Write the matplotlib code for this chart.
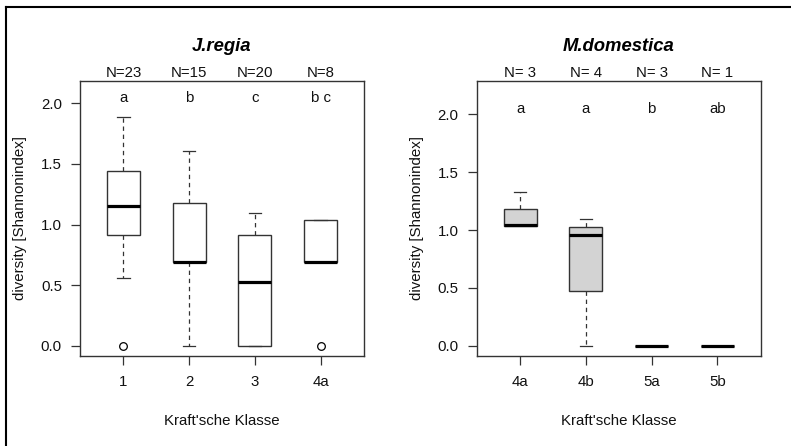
import matplotlib
matplotlib.use('Agg')
import matplotlib.pyplot as plt
from matplotlib.lines import Line2D

plt.rcParams['font.family'] = ['Liberation Sans', 'DejaVu Sans']

# ---- J. regia ----
jr_classes = ['1', '2', '3', '4a']
jr_n = ['N=23', 'N=15', 'N=20', 'N=8']
jr_letters = ['a', 'b', 'c', 'b c']
jr_whislo = [0.56, 0.0, 0.0, 0.693]
jr_q1 = [0.91, 0.693, 0.0, 0.693]
jr_med = [1.155, 0.693, 0.53, 0.693]
jr_q3 = [1.445, 1.175, 0.91, 1.04]
jr_whishi = [1.89, 1.61, 1.099, 1.04]
jr_fliers = [[0.0], [], [], [0.0]]

# ---- M. domestica ----
md_classes = ['4a', '4b', '5a', '5b']
md_n = ['N= 3', 'N= 4', 'N= 3', 'N= 1']
md_letters = ['a', 'a', 'b', 'ab']
md_whislo = [1.04, 0.0, 0.0, 0.0]
md_q1 = [1.035, 0.475, 0.0, 0.0]
md_med = [1.045, 0.955, 0.0, 0.0]
md_q3 = [1.185, 1.027, 0.0, 0.0]
md_whishi = [1.333, 1.099, 0.0, 0.0]
md_fliers = [[], [], [], []]

W, H = 791, 446
fig = plt.figure(figsize=(W / 100, H / 100), dpi=100)

edge = '#333333'
FS = 10.8


def panel(rect, title, classes, ns, letters, wlo, q1, med, q3, whi, fliers,
          ylim, fill, ylab_x):
    ax = fig.add_axes(rect)
    stats = []
    for i in range(len(classes)):
        stats.append(dict(whislo=wlo[i], q1=q1[i], med=med[i], q3=q3[i],
                          whishi=whi[i], fliers=fliers[i], label=classes[i]))
    pos = list(range(1, len(classes) + 1))
    ax.bxp(stats, positions=pos, widths=0.5, capwidths=0.19,
           patch_artist=True, showfliers=True,
           boxprops=dict(facecolor=fill, edgecolor=edge, linewidth=1.0),
           medianprops=dict(color='black', linewidth=2.3, solid_capstyle='butt'),
           whiskerprops=dict(color=edge, linewidth=0.9, linestyle=(0, (3.5, 3))),
           capprops=dict(color=edge, linewidth=0.9),
           flierprops=dict(marker='o', markersize=5.5, markerfacecolor='none',
                           markeredgecolor='black', markeredgewidth=0.9))
    ax.set_xlim(0.34, len(classes) + 0.66)
    ax.set_ylim(*ylim)
    ax.set_yticks([0.0, 0.5, 1.0, 1.5, 2.0])
    ax.set_yticklabels(['0.0', '0.5', '1.0', '1.5', '2.0'])
    ax.set_xticks(pos)
    ax.set_xticklabels(classes)
    for s in ax.spines.values():
        s.set_color(edge)
        s.set_linewidth(1.0)
    ax.tick_params(axis='both', colors=edge, labelcolor='#111111',
                   labelsize=FS, length=6.5, width=0.9)
    ax.tick_params(axis='x', pad=7.5)
    ax.tick_params(axis='y', pad=6.5)
    ax.set_title(title, fontsize=13.3, fontweight='bold', fontstyle='italic',
                 pad=21.5)
    for p, n, l in zip(pos, ns, letters):
        ax.annotate(n, xy=(p, 1.0), xycoords=('data', 'axes fraction'),
                    xytext=(0, 2.7), textcoords='offset points',
                    ha='center', va='baseline', fontsize=FS, color='#111111')
        ax.text(p, 2.01, l, ha='center', va='baseline', fontsize=FS,
                color='#111111')
    ax.set_xlabel("Kraft'sche Klasse", fontsize=FS, color='#111111')
    ax.xaxis.set_label_coords(0.5, -0.21)
    ax.set_ylabel('diversity [Shannonindex]', fontsize=FS, color='#111111',
                  va='center')
    ax.yaxis.set_label_coords(ylab_x, 0.5)
    return ax


ax_h = 275 / H
ax_w = 284 / W
ax_b = 1 - 356 / H

panel([80 / W, ax_b, ax_w, ax_h], 'J.regia', jr_classes, jr_n, jr_letters,
      jr_whislo, jr_q1, jr_med, jr_q3, jr_whishi, jr_fliers,
      (-0.084, 2.184), 'white', -0.212)
panel([476.7 / W, ax_b, ax_w, ax_h], 'M.domestica', md_classes, md_n, md_letters,
      md_whislo, md_q1, md_med, md_q3, md_whishi, md_fliers,
      (-0.088, 2.288), '#d3d3d3', -0.21)

# outer frame (left and top edges visible)
fig.add_artist(Line2D([6 / W, 6 / W], [0, 1 - 6.7 / H], transform=fig.transFigure,
                      color='black', linewidth=1.5, solid_capstyle='projecting'))
fig.add_artist(Line2D([6 / W, 1], [1 - 6.7 / H, 1 - 6.7 / H], transform=fig.transFigure,
                      color='black', linewidth=1.5, solid_capstyle='projecting'))

fig.savefig('out.png', dpi=100)
